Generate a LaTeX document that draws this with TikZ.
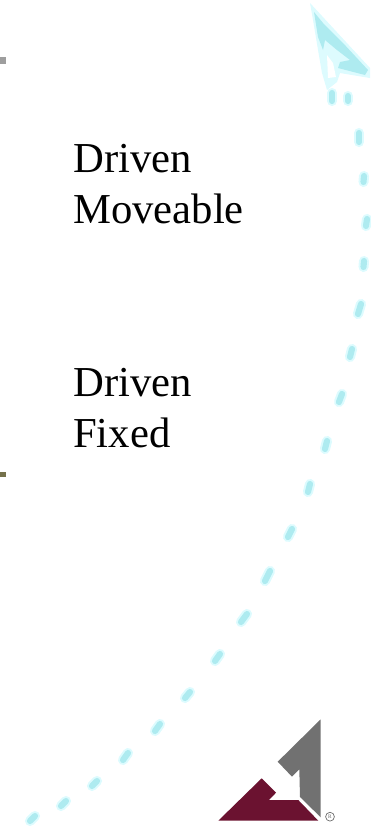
\documentclass[tikz,border=0pt]{standalone}
\usepackage{fontspec}
\setmainfont{Liberation Serif}
\usepackage{xcolor}
\usetikzlibrary{positioning}
\definecolor{dashcore}{HTML}{AEEBF0}
\definecolor{dashhalo}{HTML}{DDFBFE}
\definecolor{logomaroon}{HTML}{6B1230}
\definecolor{logogray}{HTML}{717171}

\begin{document}
\begin{tikzpicture}[
  x=0.75pt, y=-0.75pt,
  lbl/.style={align=left, font=\fontsize{32}{38.5}\selectfont, inner sep=0pt, anchor=north west},
  halo/.style={draw=dashhalo, line width=7.6pt, line cap=round},
  core/.style={draw=dashcore, line width=4.6pt, line cap=round},
  reg/.style={draw=black!60, circle, line width=0.5pt, inner sep=0pt, minimum size=6.6pt,
              font=\fontsize{4}{4}\selectfont, text=black!60}
]
\useasboundingbox (0,0) rectangle (371,829);

% labels
\node[lbl] (move) at (73,144) {Driven\\Moveable};
\node[lbl] (fixed) at (73,368) {Driven\\Fixed};

% dashes of the curve
\foreach \xa/\ya/\xb/\yb in {30/821/35/816, 61/806/66/801, 92/786/97/781, 123/760/128/753,
    155/731/160/724, 185/698/190/692, 215/661/220/654, 241/622/247/614, 265/581/270/571,
    288/537/292/529, 308/492/310/484, 325/449/327/441, 339/402/342/394, 350/357/352/349,
    358/314/361/304, 363.5/267/364/261, 366/226/367/219, 363.5/182/364/176, 359/142/359/133,
    348/101/348/96, 332/101/332/93} {
  \draw[halo] (\xa,\ya) -- (\xb,\yb);
  \draw[core] (\xa,\ya) -- (\xb,\yb);
}

% arrow head
\fill[dashhalo] (310,3) -- (370,68) -- (370,78) -- (340,73) -- (337,82) -- (327,90)
  -- (322,73) -- (318,50) -- (313,20) -- cycle;
\fill[white] (327,55) -- (333,63) -- (336,77) -- (328,78) -- cycle;
\fill[dashcore] (314,12) -- (323,23) -- (343,43) -- (368,70) -- (365,75) -- (338,68)
  -- (340,62) -- (350,60) -- (337,50) -- (325,40) -- (323,50) -- (318,37) -- cycle;

% logo
\fill[logogray] (320.7,719.3) -- (277.7,761.7) -- (292,776.7) -- (299.3,769.3)
  -- (300,797) -- (320.7,817.3) -- cycle;
\fill[logomaroon] (261.7,778.3) -- (276,792.7) -- (269,800) -- (298.3,800)
  -- (318.3,820.7) -- (218.3,820.7) -- cycle;
\node[reg] (mark) at (330,816.7) {R};

% marks on the left edge
\fill[black!38] (0,57) rectangle (6,64);
\fill[black!55!olive!80] (0,472) rectangle (6,477);
\end{tikzpicture}
\end{document}
